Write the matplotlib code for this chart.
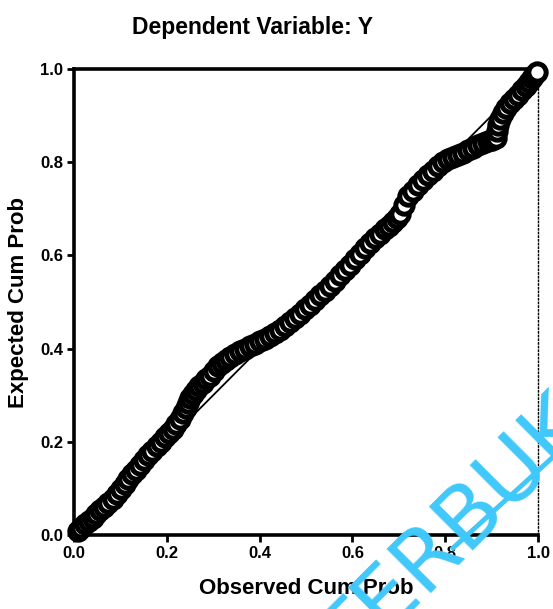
import matplotlib
matplotlib.use("Agg")
import matplotlib.pyplot as plt
from matplotlib.lines import Line2D

plt.rcParams['font.family'] = ['Liberation Sans', 'DejaVu Sans']
plt.rcParams['font.weight'] = 'bold'

# observed vs expected cumulative probability
observed = [0.009, 0.016, 0.024, 0.032, 0.041, 0.048, 0.056, 0.064, 0.073, 0.083,
            0.093, 0.101, 0.110, 0.117, 0.125, 0.133, 0.142, 0.150, 0.159, 0.169,
            0.179, 0.187, 0.196, 0.204, 0.213, 0.220, 0.228, 0.234, 0.241, 0.246,
            0.250, 0.256, 0.263, 0.270, 0.278, 0.285, 0.293, 0.301, 0.310, 0.319,
            0.328, 0.337, 0.347, 0.358, 0.369, 0.380, 0.390, 0.401, 0.412, 0.422,
            0.433, 0.444, 0.455, 0.465, 0.476, 0.487, 0.498, 0.508, 0.519, 0.530,
            0.541, 0.552, 0.563, 0.573, 0.584, 0.595, 0.606, 0.616, 0.627, 0.638,
            0.649, 0.660, 0.670, 0.679, 0.688, 0.696, 0.703, 0.711, 0.720, 0.730,
            0.741, 0.752, 0.763, 0.773, 0.784, 0.795, 0.806, 0.817, 0.828, 0.838,
            0.849, 0.860, 0.871, 0.881, 0.892, 0.900, 0.909, 0.911, 0.914, 0.919,
            0.925, 0.932, 0.940, 0.948, 0.957, 0.965, 0.974, 0.980, 0.987, 0.992,
            0.998]
expected = [0.009, 0.016, 0.024, 0.030, 0.036, 0.045, 0.054, 0.061, 0.069, 0.078,
            0.088, 0.098, 0.109, 0.120, 0.131, 0.140, 0.150, 0.161, 0.172, 0.181,
            0.191, 0.200, 0.210, 0.218, 0.227, 0.238, 0.249, 0.261, 0.273, 0.284,
            0.294, 0.303, 0.311, 0.319, 0.326, 0.334, 0.341, 0.352, 0.363, 0.370,
            0.376, 0.382, 0.388, 0.394, 0.399, 0.405, 0.410, 0.416, 0.421, 0.427,
            0.433, 0.440, 0.448, 0.457, 0.466, 0.475, 0.485, 0.494, 0.504, 0.514,
            0.524, 0.534, 0.545, 0.557, 0.569, 0.580, 0.592, 0.604, 0.616, 0.626,
            0.637, 0.647, 0.657, 0.664, 0.672, 0.680, 0.689, 0.708, 0.727, 0.739,
            0.751, 0.762, 0.773, 0.782, 0.792, 0.800, 0.807, 0.811, 0.815, 0.820,
            0.826, 0.831, 0.837, 0.841, 0.845, 0.848, 0.852, 0.866, 0.880, 0.893,
            0.906, 0.916, 0.927, 0.935, 0.944, 0.954, 0.964, 0.972, 0.981, 0.988,
            0.994]

ref_line = [0.0, 1.0]
ticks = [0.0, 0.2, 0.4, 0.6, 0.8, 1.0]
tick_labels = ["0.0", "0.2", "0.4", "0.6", "0.8", "1.0"]


def make_plot():
    fig = plt.figure(figsize=(5.53, 6.09), dpi=100)
    ax = fig.add_axes([0.1338, 0.1215, 0.8391, 0.7652])

    ax.plot(ref_line, ref_line, color='black', linewidth=1.3, zorder=2)
    ax.plot(observed, expected, linestyle='none', marker='o', markersize=12.5,
            markerfacecolor='white', markeredgecolor='black', markeredgewidth=3.6,
            clip_on=False, zorder=3)

    ax.set_xlim(0, 1)
    ax.set_ylim(0, 1)
    ax.set_xticks(ticks)
    ax.set_yticks(ticks)
    ax.set_xticklabels(tick_labels, fontsize=12, fontweight='bold')
    ax.set_yticklabels(tick_labels, fontsize=12, fontweight='bold')
    ax.tick_params(direction='out', length=5, width=2, pad=3)

    for side in ['left', 'bottom', 'top']:
        ax.spines[side].set_linewidth(2.6)
    ax.spines['right'].set_linewidth(1.0)
    ax.spines['right'].set_linestyle(':')

    ax.set_xlabel("Observed Cum Prob", fontsize=16, fontweight='bold', labelpad=12)
    ax.set_ylabel("Expected Cum Prob", fontsize=16, fontweight='bold', labelpad=8)
    fig.text(0.457, 0.955, "Dependent Variable: Y", fontsize=16.5, fontweight='bold',
             ha='center', va='center')

    # blue watermark across the lower right corner
    fig.text(475 / 553, 1 - 515 / 609, "TERBUKA", fontsize=62, fontweight='normal',
             family='DejaVu Sans', color='#40C8FA', rotation=45, ha='center', va='center',
             zorder=10)
    fig.add_artist(Line2D([453 / 553, 1.0], [1 - 548 / 609, 1 - 457 / 609],
                          color='#40C8FA', linewidth=3.5, zorder=10))

    fig.savefig("out.png", dpi=100)


if __name__ == '__main__':
    make_plot()
